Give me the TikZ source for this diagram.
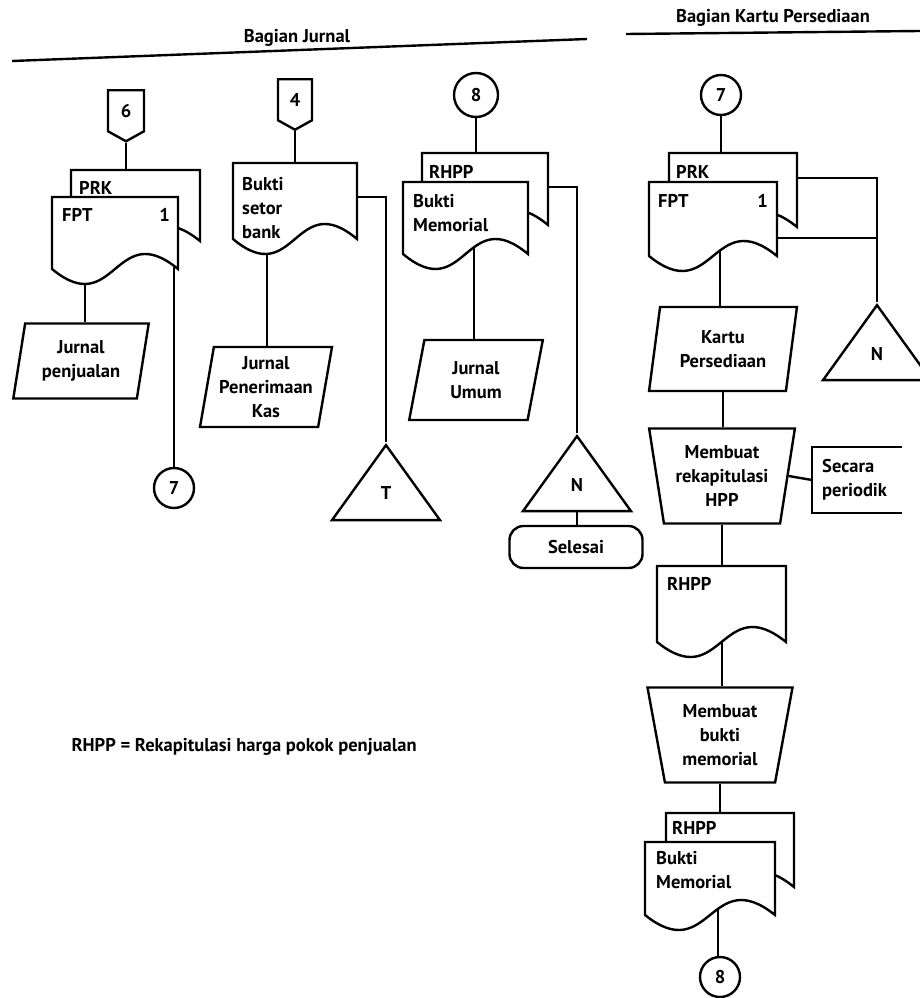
\documentclass[tikz,border=0pt]{standalone}
\usepackage{fontspec}
\setmainfont{PT Sans}
\usetikzlibrary{shapes.geometric,shapes.symbols,calc}
\newcommand\docout[3]{%
  \draw[ln, fill=white] (#1.north west) -- (#1.north east) -- (#1.south east)
    .. controls ($(#1.south)+(0,-#2)$) and ($(#1.south)+(0,#2)$) ..
    coordinate[pos=0.02] (#1-e0) coordinate[pos=#3] (#1-o0) (#1.south west) -- cycle;
  \path let \p1=(#1-o0), \p2=(#1-e0) in
    coordinate (#1-o) at ({round(\x1)},\y1)
    coordinate (#1-e) at ({round(\x2)},\y2);}
\tikzset{
  ln/.style={line width=2.4pt},
  every node/.style={font=\bfseries\fontsize{18.5}{24}\selectfont},
  frame/.style={draw=none, inner sep=0pt, outer sep=0pt, anchor=north west},
  dtext/.style={inner sep=0pt, align=left, anchor=north west},
  para/.style={draw, ln, trapezium, trapezium left angle=78.5, trapezium right angle=101.5,
    trapezium stretches=true, align=center, inner sep=0pt},
  manop/.style={draw, ln, trapezium, trapezium left angle=79, trapezium right angle=79,
    shape border rotate=180, trapezium stretches=true, align=center, inner sep=0pt,
    minimum width=146pt, minimum height=95pt},
  conn/.style={draw, ln, circle, minimum size=40pt, inner sep=0pt},
  offpage/.style={draw, ln, signal, signal to=south, signal from=nowhere,
    signal pointer angle=122, minimum width=36pt, minimum height=44pt, inner sep=0pt, anchor=north},
  tri/.style={draw, ln, isosceles triangle, shape border rotate=90, isosceles triangle stretches=true,
    minimum width=108pt, minimum height=75pt, inner sep=0pt, anchor=apex},
  term/.style={draw, ln, rectangle, rounded corners=14pt, minimum width=133pt, minimum height=42pt},
}
\begin{document}
\begin{tikzpicture}[x=1pt,y=-1pt]
\useasboundingbox (0,0) rectangle (920,998);
\clip (0,0) rectangle (920,998);
\fill[white] (0,0) rectangle (920,998);

% headers
\node (h1) at (297,38) {Bagian Jurnal};
\draw[ln] (12,61) -- (587,39);
\node (h2) at (773,18) {Bagian Kartu Persediaan};
\draw[ln] (626,34) -- (920,31);

% ---------- column 1 ----------
\node[offpage] (c6) at (126,89) {6};
\node[frame, minimum width=129pt, minimum height=71pt] (prkL) at (71,170) {};
\docout{prkL}{52}{0.5}
\node[dtext] (prkLt) at ($(prkL.north west)+(8,11)$) {PRK};
\node[frame, minimum width=126pt, minimum height=72pt] (fptL) at (52,197) {};
\docout{fptL}{52}{0.79}
\node[dtext] (fptLt) at ($(fptL.north west)+(10,11)$) {FPT};
\node[dtext, anchor=north east] (fptLn) at ($(fptL.north east)+(-8,11)$) {1};
\node[para, minimum width=136pt, minimum height=75pt] (jp) at (81,361) {Jurnal\\penjualan};
\node[conn] (c7L) at (174,488) {7};

\draw[ln] (c6.south) -- (c6.south |- prkL.north);
\draw[ln] (fptL-o) -- (fptL-o |- jp.north);
\draw[ln] (fptL-e) -- (fptL-e |- c7L.north);

% ---------- column 2 ----------
\node[offpage, minimum width=34pt] (c4) at (295,78) {4};
\node[frame, minimum width=124pt, minimum height=76pt] (bsb) at (233,163) {};
\docout{bsb}{52}{0.77}
\node[dtext] (bsbt) at ($(bsb.north west)+(9,14)$) {Bukti\\setor\\bank};
\node[para, minimum width=132pt, minimum height=80pt] (jpk) at (266,387) {Jurnal\\Penerimaan\\Kas};
\node[tri] (tT) at (386,442) {T};

\draw[ln] (c4.south) -- (c4.south |- bsb.north);
\draw[ln] (bsb-o) -- (bsb-o |- jpk.north);
\coordinate (bsbR) at ($(bsb.north east)+(0,34)$);
\draw[ln] (bsbR) -| (tT.apex);

% ---------- column 3 ----------
\node[conn, minimum size=44pt] (c8t) at (476,95) {8};
\node[frame, minimum width=126pt, minimum height=72pt] (rhppM) at (422,153) {};
\docout{rhppM}{52}{0.5}
\node[dtext] (rhppMt) at ($(rhppM.north west)+(7,12)$) {RHPP};
\node[frame, minimum width=125pt, minimum height=72pt] (bmM) at (403,182) {};
\docout{bmM}{52}{0.41}
\node[dtext] (bmMt) at ($(bmM.north west)+(10,12)$) {Bukti\\Memorial};
\node[para, minimum width=134pt, minimum height=80pt] (ju) at (476,380) {Jurnal\\Umum};
\node[tri] (tN1) at (577,433) {N};
\node[term] (sel) at (576,547) {Selesai};

\draw[ln] (c8t.south) -- (c8t.south |- rhppM.north);
\coordinate (rhMR) at ($(rhppM.north east)+(0,34)$);
\draw[ln] (rhMR) -| (tN1.apex);
\draw[ln] (bmM-o) -- (bmM-o |- ju.north);
\draw[ln] (tN1.south) -- (tN1.south |- sel.north);

% ---------- column 4 ----------
\node[conn] (c7R) at (721,95) {7};
\node[frame, minimum width=128pt, minimum height=74pt] (prkR) at (669,153) {};
\docout{prkR}{52}{0.5}
\node[dtext] (prkRt) at ($(prkR.north west)+(7,12)$) {PRK};
\node[frame, minimum width=128pt, minimum height=74pt] (fptR) at (649,182) {};
\docout{fptR}{52}{0.43}
\node[dtext] (fptRt) at ($(fptR.north west)+(9,12)$) {FPT};
\node[dtext, anchor=north east] (fptRn) at ($(fptR.north east)+(-9,12)$) {1};
\node[tri] (tN2) at (877,302) {N};
\node[para, minimum width=148pt, minimum height=84pt] (kp) at (723,349) {Kartu\\Persediaan};
\node[manop] (tr1) at (722,476) {Membuat\\rekapitulasi\\HPP};
\node[anchor=west, align=left, text width=70pt, inner xsep=10pt, minimum height=66pt] (sec) at (812,480) {Secara\\periodik};
\draw[ln] (sec.north east) -- (sec.north west) -- (sec.south west) -- (sec.south east);
\node[frame, minimum width=129pt, minimum height=76pt] (rhpp) at (657,566) {};
\docout{rhpp}{52}{0.5}
\node[dtext] (rhppt) at ($(rhpp.north west)+(10,11)$) {RHPP};
\node[manop, minimum width=145pt] (tr2) at (720,735) {Membuat\\bukti\\memorial};
\node[frame, minimum width=128pt, minimum height=74pt] (rhppB) at (666,813) {};
\docout{rhppB}{52}{0.5}
\node[dtext] (rhppBt) at ($(rhppB.north west)+(6,8)$) {RHPP};
\node[frame, minimum width=130pt, minimum height=73pt] (bmB) at (645,842) {};
\docout{bmB}{52}{0.42}
\node[dtext] (bmBt) at ($(bmB.north west)+(11,9)$) {Bukti\\Memorial};
\node[conn] (c8b) at (720,977) {8};

\draw[ln] (c7R.south) -- (c7R.south |- prkR.north);
\coordinate (pkR) at ($(prkR.north east)+(0,25)$);
\draw[ln] (pkR) -| (tN2.apex);
\coordinate (fpR) at ($(fptR.north east)+(0,56)$);
\draw[ln] (fpR) -- (fpR -| tN2.apex);
\draw[ln] (fptR-o) -- (fptR-o |- kp.north);
\draw[ln] (kp.south) -- (kp.south |- tr1.north);
\draw[ln] (tr1.east) -- (sec.west);
\draw[ln] (tr1.south) -- (tr1.south |- rhpp.north);
\draw[ln] (rhpp-o) -- (rhpp-o |- tr2.north);
\draw[ln] (tr2.south) -- (tr2.south |- rhppB.north);
\draw[ln] (bmB-o) -- (bmB-o |- c8b.north);

% note
\node[anchor=west] (note) at (68,747) {RHPP = Rekapitulasi harga pokok penjualan};
\end{tikzpicture}
\end{document}
